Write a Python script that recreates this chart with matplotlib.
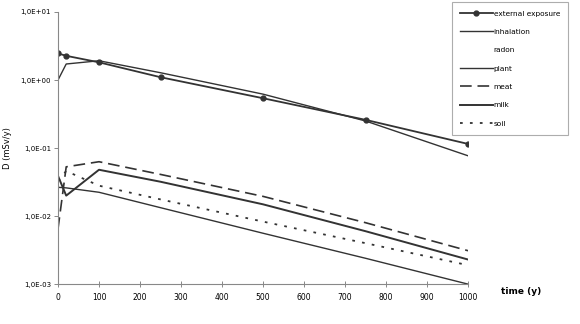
import matplotlib.pyplot as plt
from matplotlib.ticker import FixedLocator, FixedFormatter

# time points (y)
time = [0, 20, 100, 250, 500, 750, 1000]

# dose per pathway (mSv/y)
external = [2.46, 2.27, 1.82, 1.10, 0.54, 0.26, 0.115]
plant = [1.0, 1.72, 1.92, 1.28, 0.62, 0.25, 0.077]
meat = [0.0065, 0.053, 0.063, 0.041, 0.0195, 0.0080, 0.0031]
milk = [0.039, 0.020, 0.048, 0.032, 0.0149, 0.0060, 0.0023]
soil = [0.033, 0.046, 0.028, 0.0176, 0.0083, 0.0040, 0.0019]
inhalation = [0.0265, 0.026, 0.0224, 0.0133, 0.0056, 0.0024, 0.0010]

y_ticks = [1e-3, 1e-2, 1e-1, 1e0, 1e1]
y_labels = ['1,0E-03', '1,0E-02', '1,0E-01', '1,0E+00', '1,0E+01']
x_ticks = [0, 100, 200, 300, 400, 500, 600, 700, 800, 900, 1000]

ink = '#333333'

fig = plt.figure(figsize=(5.8, 3.24), dpi=100)
ax = fig.add_axes([0.1, 0.123, 0.707, 0.84])

ax.plot(time, external, color=ink, lw=1.3, marker='o', ms=3.5, label='external exposure')
ax.plot(time, inhalation, color=ink, lw=1.0, label='inhalation')
ax.plot([], [], color='white', lw=1.0, label='radon')
ax.plot(time, plant, color=ink, lw=1.0, label='plant')
ax.plot(time, meat, color=ink, lw=1.2, dashes=(7, 3.5), label='meat')
ax.plot(time, milk, color=ink, lw=1.4, label='milk')
ax.plot(time, soil, color=ink, lw=1.3, dashes=(1.5, 4), label='soil')

ax.set_yscale('log')
ax.set_ylim(1e-3, 1e1)
ax.set_xlim(0, 1000)
ax.yaxis.set_major_locator(FixedLocator(y_ticks))
ax.yaxis.set_major_formatter(FixedFormatter(y_labels))
ax.yaxis.set_minor_locator(FixedLocator([]))
ax.set_xticks(x_ticks)

for s in ['top', 'right']:
    ax.spines[s].set_visible(False)
for s in ['left', 'bottom']:
    ax.spines[s].set_color('#888888')
    ax.spines[s].set_linewidth(0.8)

ax.tick_params(axis='y', direction='out', length=3, width=0.7, color='#888888',
               labelsize=5, pad=2)
ax.tick_params(axis='x', direction='inout', length=5, width=0.7, color='#888888',
               labelsize=5.5, pad=4)

ax.set_ylabel('D (mSv/y)', fontsize=6, labelpad=6)
ax.text(1080, 0.00092, 'time (y)', fontsize=6.5, fontweight='bold', va='top', ha='left')

leg = ax.legend(loc='upper left', bbox_to_anchor=(0.96, 1.035), fontsize=5.3,
                frameon=True, fancybox=False, handlelength=4.5, handletextpad=0.1,
                labelspacing=1.65, borderpad=1.1, borderaxespad=0)
leg.get_frame().set_edgecolor('#999999')
leg.get_frame().set_linewidth(0.8)

fig.savefig('out.png', dpi=100)
